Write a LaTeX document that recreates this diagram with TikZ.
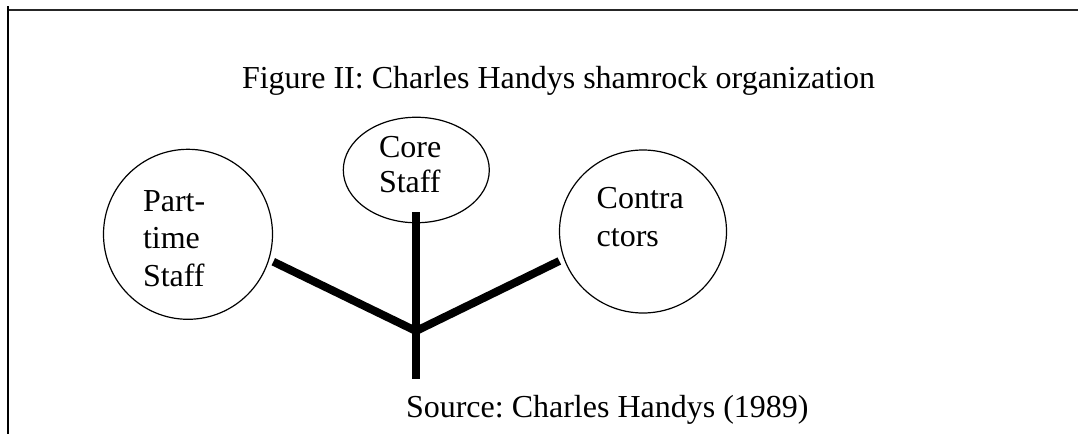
\documentclass[tikz,border=0pt]{standalone}
\usepackage{fontspec}
\setmainfont{Liberation Serif}
\usetikzlibrary{shapes.geometric}
\frenchspacing

% stacked lines of text whose reference point is the first baseline
\newcommand{\stacklines}[2]{\vtop{\baselineskip=#1pt\lineskiplimit=-100pt #2}}

\begin{document}
\begin{tikzpicture}[x=1pt,y=-1pt,
  every node/.style={font=\fontsize{32}{37}\selectfont, inner sep=0pt, outer sep=0pt},
  leaf/.style={draw=black, line width=1.2pt, ellipse},
  leaftext/.style={anchor=base west, align=left},
  caption/.style={anchor=base west},
  stem/.style={line width=8pt, line cap=butt, black},
  frame/.style={line width=2pt}]

  \useasboundingbox (0,0) rectangle (1078,434);

  % page frame
  \coordinate (ftl) at (7,10);
  \coordinate (ftr) at (1078,10);
  \coordinate (flt) at (8,6);
  \coordinate (flb) at (8,434);
  \draw[frame, black!85] (ftl) -- (ftr);
  \draw[frame] (flt) -- (flb);

  % title and source
  \node[caption] (title) at (242,88) {Figure II: Charles Handys shamrock organization};
  \node[caption] (source) at (406,417) {Source: Charles Handys (1989)};

  % the three leaves
  \node[leaf, minimum width=169pt, minimum height=170pt] (part) at (188,234.3) {};
  \node[leaf, minimum width=146pt, minimum height=105.5pt] (core) at (416.3,170) {};
  \node[leaf, minimum width=167pt, minimum height=163pt] (contr) at (643,231.5) {};

  \node[leaftext] (parttext) at (143,211)
    {\stacklines{37.5}{\hbox{Part-}\hbox{time}\hbox{Staff}}};
  \node[leaftext] (coretext) at (379,157.3)
    {\stacklines{35.5}{\hbox{Core}\hbox{Staff}}};
  \node[leaftext] (contrtext) at (596.7,208.3)
    {\stacklines{37.7}{\hbox{Contra}\hbox{ctors}}};

  % the stem and its branches
  \coordinate (junction) at (416,331);
  \coordinate (stemtop) at (416,212);
  \coordinate (stembottom) at (416,379);
  \coordinate (partend) at (273.3,261.7);
  \coordinate (contrend) at (559.3,261);

  \draw[stem] (stemtop) -- (stembottom);
  \draw[stem] (junction) -- (partend);
  \draw[stem] (junction) -- (contrend);
\end{tikzpicture}
\end{document}
